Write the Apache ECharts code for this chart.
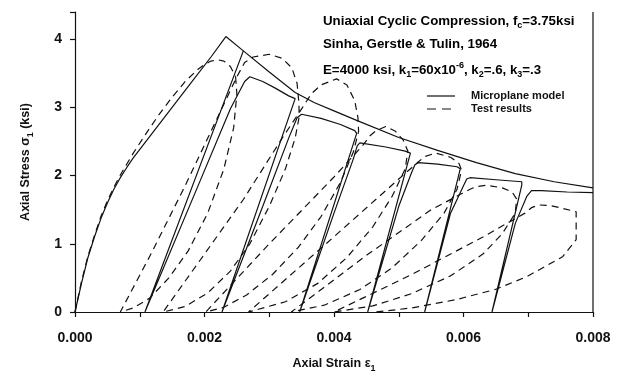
<!DOCTYPE html>
<html>
<head>
<meta charset="utf-8">
<script src="https://cdn.jsdelivr.net/npm/echarts@6/dist/echarts.min.js"></script>
<style>
html,body{margin:0;padding:0;background:#fff;}
#chart{width:622px;height:373px;}
</style>
</head>
<body>
<div id="chart"></div>
<script>
// Axis ticks
const xTicks = [0, 0.002, 0.004, 0.006, 0.008];
const yTicks = [0, 1, 2, 3, 4];

// Microplane model: monotonic envelope [strain, stress ksi]
const modelEnvelope = [
  [0,0],[0.0001,0.42],[0.0002,0.80],[0.0003,1.10],[0.0004,1.37],[0.0005,1.60],
  [0.0006,1.80],[0.0007,1.97],[0.0008,2.12],[0.0009,2.26],[0.0012,2.63],[0.0015,3.00],
  [0.0018,3.37],[0.0021,3.74],[0.00233,4.04],[0.0026,3.83],[0.0030,3.52],[0.0034,3.22],
  [0.0037,3.07],[0.0040,2.95],[0.00435,2.81],[0.0050,2.56],[0.0056,2.37],[0.0062,2.19],
  [0.0068,2.03],[0.0074,1.91],[0.0080,1.82]
];

// Microplane model: unloading / reloading cycles
const modelCycles = [
  [0.0026,3.83],[0.00108,0],
  [0.0011,0],[0.0019,1.85],[0.0024,2.98],[0.00262,3.38],[0.0027,3.45],
  [0.0029,3.38],[0.0031,3.28],[0.0033,3.17],[0.0034,3.13],
  [0.00227,0],
  [0.0029,1.55],[0.0033,2.55],[0.00343,2.85],[0.0035,2.90],
  [0.0038,2.84],[0.0041,2.75],[0.00432,2.66],[0.00435,2.62],
  [0.00347,0],
  [0.0040,1.45],[0.0043,2.25],[0.00436,2.44],[0.0044,2.48],
  [0.0048,2.42],[0.0051,2.36],[0.00518,2.33],
  [0.00452,0],
  [0.0050,1.55],[0.0052,2.05],[0.00525,2.16],[0.0053,2.19],
  [0.0056,2.17],[0.0059,2.13],[0.00595,2.10],
  [0.0054,0],
  [0.0058,1.45],[0.0060,1.85],[0.00605,1.95],[0.0061,1.97],
  [0.0065,1.94],[0.0069,1.91],[0.0069,1.86],
  [0.00644,0],
  [0.0068,1.30],[0.00698,1.70],[0.00705,1.78],[0.0072,1.78],[0.0076,1.76],[0.0080,1.75]
];

// Test results (Sinha, Gerstle & Tulin, 1964)
const testLoading = [
  [0,0],[0.0001,0.45],[0.0002,0.82],[0.0003,1.12],[0.0004,1.40],[0.0005,1.63],
  [0.0006,1.83],[0.0007,2.01],[0.0008,2.17],[0.0009,2.33],[0.0011,2.62],[0.0013,2.90],
  [0.0015,3.15],[0.0017,3.38],[0.0019,3.56],[0.0020,3.63],[0.0021,3.68],[0.0022,3.70],
  [0.0023,3.68],[0.0024,3.60],[0.00248,3.45]
];
const testCycles = [
  [0.00248,3.45],[0.0025,3.2],[0.00245,2.7],[0.0023,2.1],[0.00205,1.45],[0.00175,0.9],
  [0.00145,0.5],[0.00115,0.2],[0.0009,0.06],[0.0007,0],
  [0.0012,0.9],[0.0017,1.85],[0.0022,2.85],[0.0025,3.45],[0.00262,3.66],
  [0.00275,3.74],[0.0030,3.78],[0.0032,3.72],[0.00335,3.58],[0.00343,3.35],[0.00346,3.05],[0.00346,2.85],
  [0.0034,2.55],[0.00325,2.1],[0.0030,1.55],[0.0027,1.0],[0.0024,0.6],[0.00205,0.28],[0.0017,0.08],[0.00136,0],
  [0.0020,0.85],[0.0026,1.65],[0.0032,2.55],[0.0035,2.98],[0.00365,3.2],
  [0.0038,3.33],[0.00404,3.42],[0.0042,3.33],[0.00432,3.1],[0.00437,2.85],[0.00438,2.65],
  [0.0043,2.35],[0.0041,1.9],[0.0038,1.4],[0.00345,0.95],[0.00305,0.55],[0.00265,0.25],[0.0023,0.07],[0.00202,0],
  [0.0030,1.0],[0.0040,1.98],[0.00445,2.45],[0.00455,2.58],
  [0.00465,2.66],[0.0048,2.72],[0.00495,2.65],[0.00507,2.52],[0.00514,2.36],
  [0.0051,2.1],[0.0049,1.7],[0.0046,1.25],[0.0042,0.8],[0.00375,0.42],[0.00325,0.15],[0.00268,0],
  [0.0039,1.02],[0.0050,1.95],[0.0053,2.2],
  [0.0054,2.28],[0.00557,2.33],[0.0058,2.27],[0.00593,2.18],[0.00597,2.08],
  [0.0059,1.8],[0.0057,1.45],[0.00535,1.05],[0.0049,0.65],[0.0044,0.33],[0.00385,0.1],[0.00334,0],
  [0.0045,0.83],[0.0055,1.5],[0.0061,1.8],
  [0.0062,1.84],[0.00636,1.86],[0.0066,1.82],[0.00675,1.76],[0.00682,1.66],
  [0.0068,1.45],[0.0066,1.15],[0.0063,0.85],[0.0058,0.53],[0.0052,0.27],[0.0046,0.09],[0.0040,0],
  [0.0052,0.55],[0.0063,1.1],[0.00695,1.45],
  [0.00705,1.53],[0.00716,1.57],[0.00735,1.56],[0.00753,1.52],[0.00774,1.47],[0.00774,1.06],
  [0.00753,0.81],[0.00698,0.52],[0.00649,0.33],[0.00588,0.18],[0.0052,0.06],[0.00465,0]
];

const FONT = '"Liberation Sans", Arial, Helvetica, sans-serif';
const INK = '#111';

const chart = echarts.init(document.getElementById('chart'), null, {renderer: 'canvas'});

const solid = {type: 'solid', width: 1.2, color: INK};
const dashed = {type: [7, 5], width: 1.2, color: INK};

function lineSeries(name, data, style) {
  return {
    name: name, type: 'line', data: data, symbol: 'none', smooth: false,
    lineStyle: style, itemStyle: {color: INK}, silent: true, animation: false, z: 3
  };
}

const sub = {fontFamily: FONT, fontSize: 9, fontWeight: 'bold', color: INK, lineHeight: 9, verticalAlign: 'bottom'};
const sup = {fontFamily: FONT, fontSize: 9, fontWeight: 'bold', color: INK, lineHeight: 9, verticalAlign: 'top'};
const main = {fontFamily: FONT, fontSize: 13.3, fontWeight: 'bold', color: INK, lineHeight: 18};

chart.setOption({
  animation: false,
  backgroundColor: '#fff',
  grid: {left: 75, right: 29, top: 12, bottom: 61, show: false, containLabel: false, outerBoundsMode: 'none'},
  xAxis: {
    type: 'value', min: 0, max: 0.008, interval: 0.002,
    axisLine: {show: true, onZero: false, lineStyle: {color: INK, width: 1.2}},
    axisTick: {show: true, inside: false, length: 5, lineStyle: {color: INK, width: 1.2}},
    minorTick: {show: true, splitNumber: 2, length: 5, lineStyle: {color: INK, width: 1.2}},
    splitLine: {show: false},
    axisLabel: {
      margin: 19, fontFamily: FONT, fontSize: 14, fontWeight: 'bold', color: INK,
      formatter: v => xTicks.some(t => Math.abs(t - v) < 1e-9) ? v.toFixed(3) : ''
    },
    name: '{t|Axial Strain ε}{s|1}',
    nameLocation: 'middle', nameGap: 43,
    nameTextStyle: {
      rich: {
        t: {fontFamily: FONT, fontSize: 12.5, fontWeight: 'bold', color: INK, lineHeight: 18},
        s: sub
      }
    }
  },
  yAxis: {
    type: 'value', min: 0, max: 4.4, interval: 1,
    axisLine: {show: true, onZero: false, lineStyle: {color: INK, width: 1.2}},
    axisTick: {show: true, inside: false, length: 5, lineStyle: {color: INK, width: 1.2}},
    splitLine: {show: false},
    axisLabel: {
      margin: 13, fontFamily: FONT, fontSize: 14, fontWeight: 'bold', color: INK,
      formatter: v => yTicks.includes(v) ? String(v) : ''
    },
    name: '{t|Axial Stress σ}{s|1}{t| (ksi)}',
    nameLocation: 'middle', nameGap: 40, nameRotate: 90,
    nameTextStyle: {
      rich: {
        t: {fontFamily: FONT, fontSize: 12.5, fontWeight: 'bold', color: INK, lineHeight: 18},
        s: sub
      }
    }
  },
  graphic: [
    // right frame line
    {type: 'line', shape: {x1: 593, y1: 12, x2: 593, y2: 312}, style: {stroke: INK, lineWidth: 1.2}, silent: true},
    // annotation block
    {type: 'text', left: 323, top: 15, silent: true, style: {
      text: '{a|Uniaxial Cyclic Compression, f}{b|c}{a|=3.75ksi}',
      rich: {a: main, b: sub}}},
    {type: 'text', left: 323, top: 38, silent: true, style: {
      text: '{a|Sinha, Gerstle & Tulin, 1964}', rich: {a: main}}},
    {type: 'text', left: 323, top: 61, silent: true, style: {
      text: '{a|E=4000 ksi, k}{b|1}{a|=60x10}{p|-6}{a|, k}{b|2}{a|=.6, k}{b|3}{a|=.3}',
      rich: {a: main, b: sub, p: sup}}},
    // legend
    {type: 'line', shape: {x1: 427, y1: 96, x2: 455, y2: 96}, style: {stroke: INK, lineWidth: 1.2}, silent: true},
    {type: 'line', shape: {x1: 427, y1: 109, x2: 455, y2: 109}, style: {stroke: INK, lineWidth: 1.2, lineDash: [9, 6]}, silent: true},
    {type: 'text', left: 471, top: 90, silent: true, style: {
      text: 'Microplane model', fontFamily: FONT, fontSize: 11, fontWeight: 'bold', fill: INK}},
    {type: 'text', left: 471, top: 103, silent: true, style: {
      text: 'Test results', fontFamily: FONT, fontSize: 11, fontWeight: 'bold', fill: INK}}
  ],
  series: [
    lineSeries('Microplane model', modelEnvelope, solid),
    lineSeries('Microplane model', modelCycles, solid),
    lineSeries('Test results', testLoading, dashed),
    lineSeries('Test results', testCycles, dashed)
  ]
});
</script>
</body>
</html>
